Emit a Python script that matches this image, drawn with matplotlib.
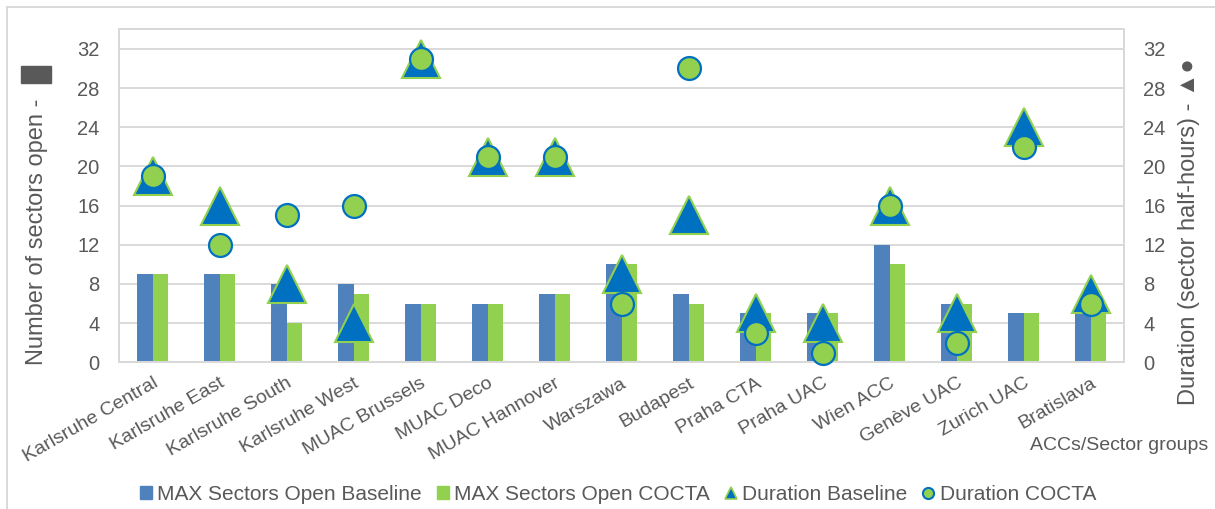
import numpy as np
import matplotlib.pyplot as plt
from matplotlib.lines import Line2D
from matplotlib.patches import Patch, Rectangle

plt.rcParams['font.family'] = ['Liberation Sans', 'DejaVu Sans']

# dane dla poszczegolnych ACC
acc_names = ['Karlsruhe Central', 'Karlsruhe East', 'Karlsruhe South', 'Karlsruhe West',
             'MUAC Brussels', 'MUAC Deco', 'MUAC Hannover', 'Warszawa', 'Budapest',
             'Praha CTA', 'Praha UAC', 'Wien ACC', 'Genève UAC', 'Zurich UAC', 'Bratislava']
max_sectors_baseline = [9, 9, 8, 8, 6, 6, 7, 10, 7, 5, 5, 12, 6, 5, 5]
max_sectors_cocta = [9, 9, 4, 7, 6, 6, 7, 10, 6, 5, 5, 10, 6, 5, 5]
duration_baseline = [19, 16, 8, 4, 31, 21, 21, 9, 15, 5, 4, 16, 5, 24, 7]
duration_cocta = [19, 12, 15, 16, 31, 21, 21, 6, 30, 3, 1, 16, 2, 22, 6]
y_ticks = [0, 4, 8, 12, 16, 20, 24, 28, 32]

blue_bar = '#4F81BD'
green = '#92D050'
blue = '#0070C0'
grey_text = '#595959'
grey_line = '#D9D9D9'

W, H = 1215, 509
fig = plt.figure(figsize=(W / 100, H / 100), dpi=100)
ax = fig.add_axes([119 / W, 1 - 362.3 / H, (1124 - 119) / W, (362.3 - 29.3) / H])
ax2 = ax.twinx()

x = np.arange(len(acc_names))
w = 0.23

# slupki - liczba otwartych sektorow
ax.bar(x - w / 2, max_sectors_baseline, w, color=blue_bar, zorder=2)
ax.bar(x + w / 2, max_sectors_cocta, w, color=green, zorder=2)

# znaczniki - czas trwania (os prawa)
ax2.plot(x, duration_baseline, ls='none', marker='^', ms=28, mfc=blue, mec=green, mew=1.5,
         clip_on=False, zorder=3)
ax2.plot(x, duration_cocta, ls='none', marker='o', ms=16.5, mfc=green, mec=blue, mew=1.6,
         clip_on=False, zorder=4)

for a in (ax, ax2):
    a.set_ylim(0, 34)
    a.set_yticks(y_ticks)
    a.tick_params(axis='y', length=0, pad=14, labelsize=14.5, labelcolor=grey_text)
    for s in a.spines.values():
        s.set_color(grey_line)
        s.set_linewidth(1.4)

ax.set_xlim(-0.5, len(acc_names) - 0.5)
ax.grid(axis='y', color=grey_line, lw=1.4, zorder=0)
ax.set_axisbelow(True)
ax.set_xticks(x)
ax.set_xticklabels(acc_names, rotation=30, ha='right', rotation_mode='anchor',
                   fontsize=14, color=grey_text)
ax.tick_params(axis='x', length=0, pad=9)

# opisy osi
fig.text(37 / W, 1 - 232 / H, 'Number of sectors open -', rotation=90, ha='center', va='center',
         fontsize=17, color=grey_text)
fig.add_artist(Rectangle((21 / W, 1 - 83 / H), 30 / W, 17 / H, transform=fig.transFigure,
                         color=grey_text))
fig.text(1189 / W, 1 - 232 / H, 'Duration (sector half-hours) - ▲●', rotation=90,
         ha='center', va='center', fontsize=17, color=grey_text)
fig.text(1208 / W, 1 - 445 / H, 'ACCs/Sector groups', ha='right', va='center',
         fontsize=14, color=grey_text)

# legenda
handles = [Patch(color=blue_bar), Patch(color=green),
           Line2D([], [], ls='none', marker='^', ms=9, mfc=blue, mec=green, mew=1.2),
           Line2D([], [], ls='none', marker='o', ms=8, mfc=green, mec=blue, mew=1.5)]
labels = ['MAX Sectors Open Baseline', 'MAX Sectors Open COCTA', 'Duration Baseline',
          'Duration COCTA']
fig.legend(handles, labels, loc='center', bbox_to_anchor=(618 / W, 1 - 494 / H), ncol=4,
           frameon=False, fontsize=15, handlelength=0.6, handleheight=0.6,
           handletextpad=0.25, columnspacing=0.7, labelcolor=grey_text)

# ramka wykresu
fig.add_artist(Line2D([7 / W, 7 / W], [0, 1 - 7 / H], transform=fig.transFigure,
                      color=grey_line, lw=1.4))
fig.add_artist(Line2D([7 / W, 1], [1 - 7 / H, 1 - 7 / H], transform=fig.transFigure,
                      color=grey_line, lw=1.4))

fig.savefig('out.png', dpi=100)
